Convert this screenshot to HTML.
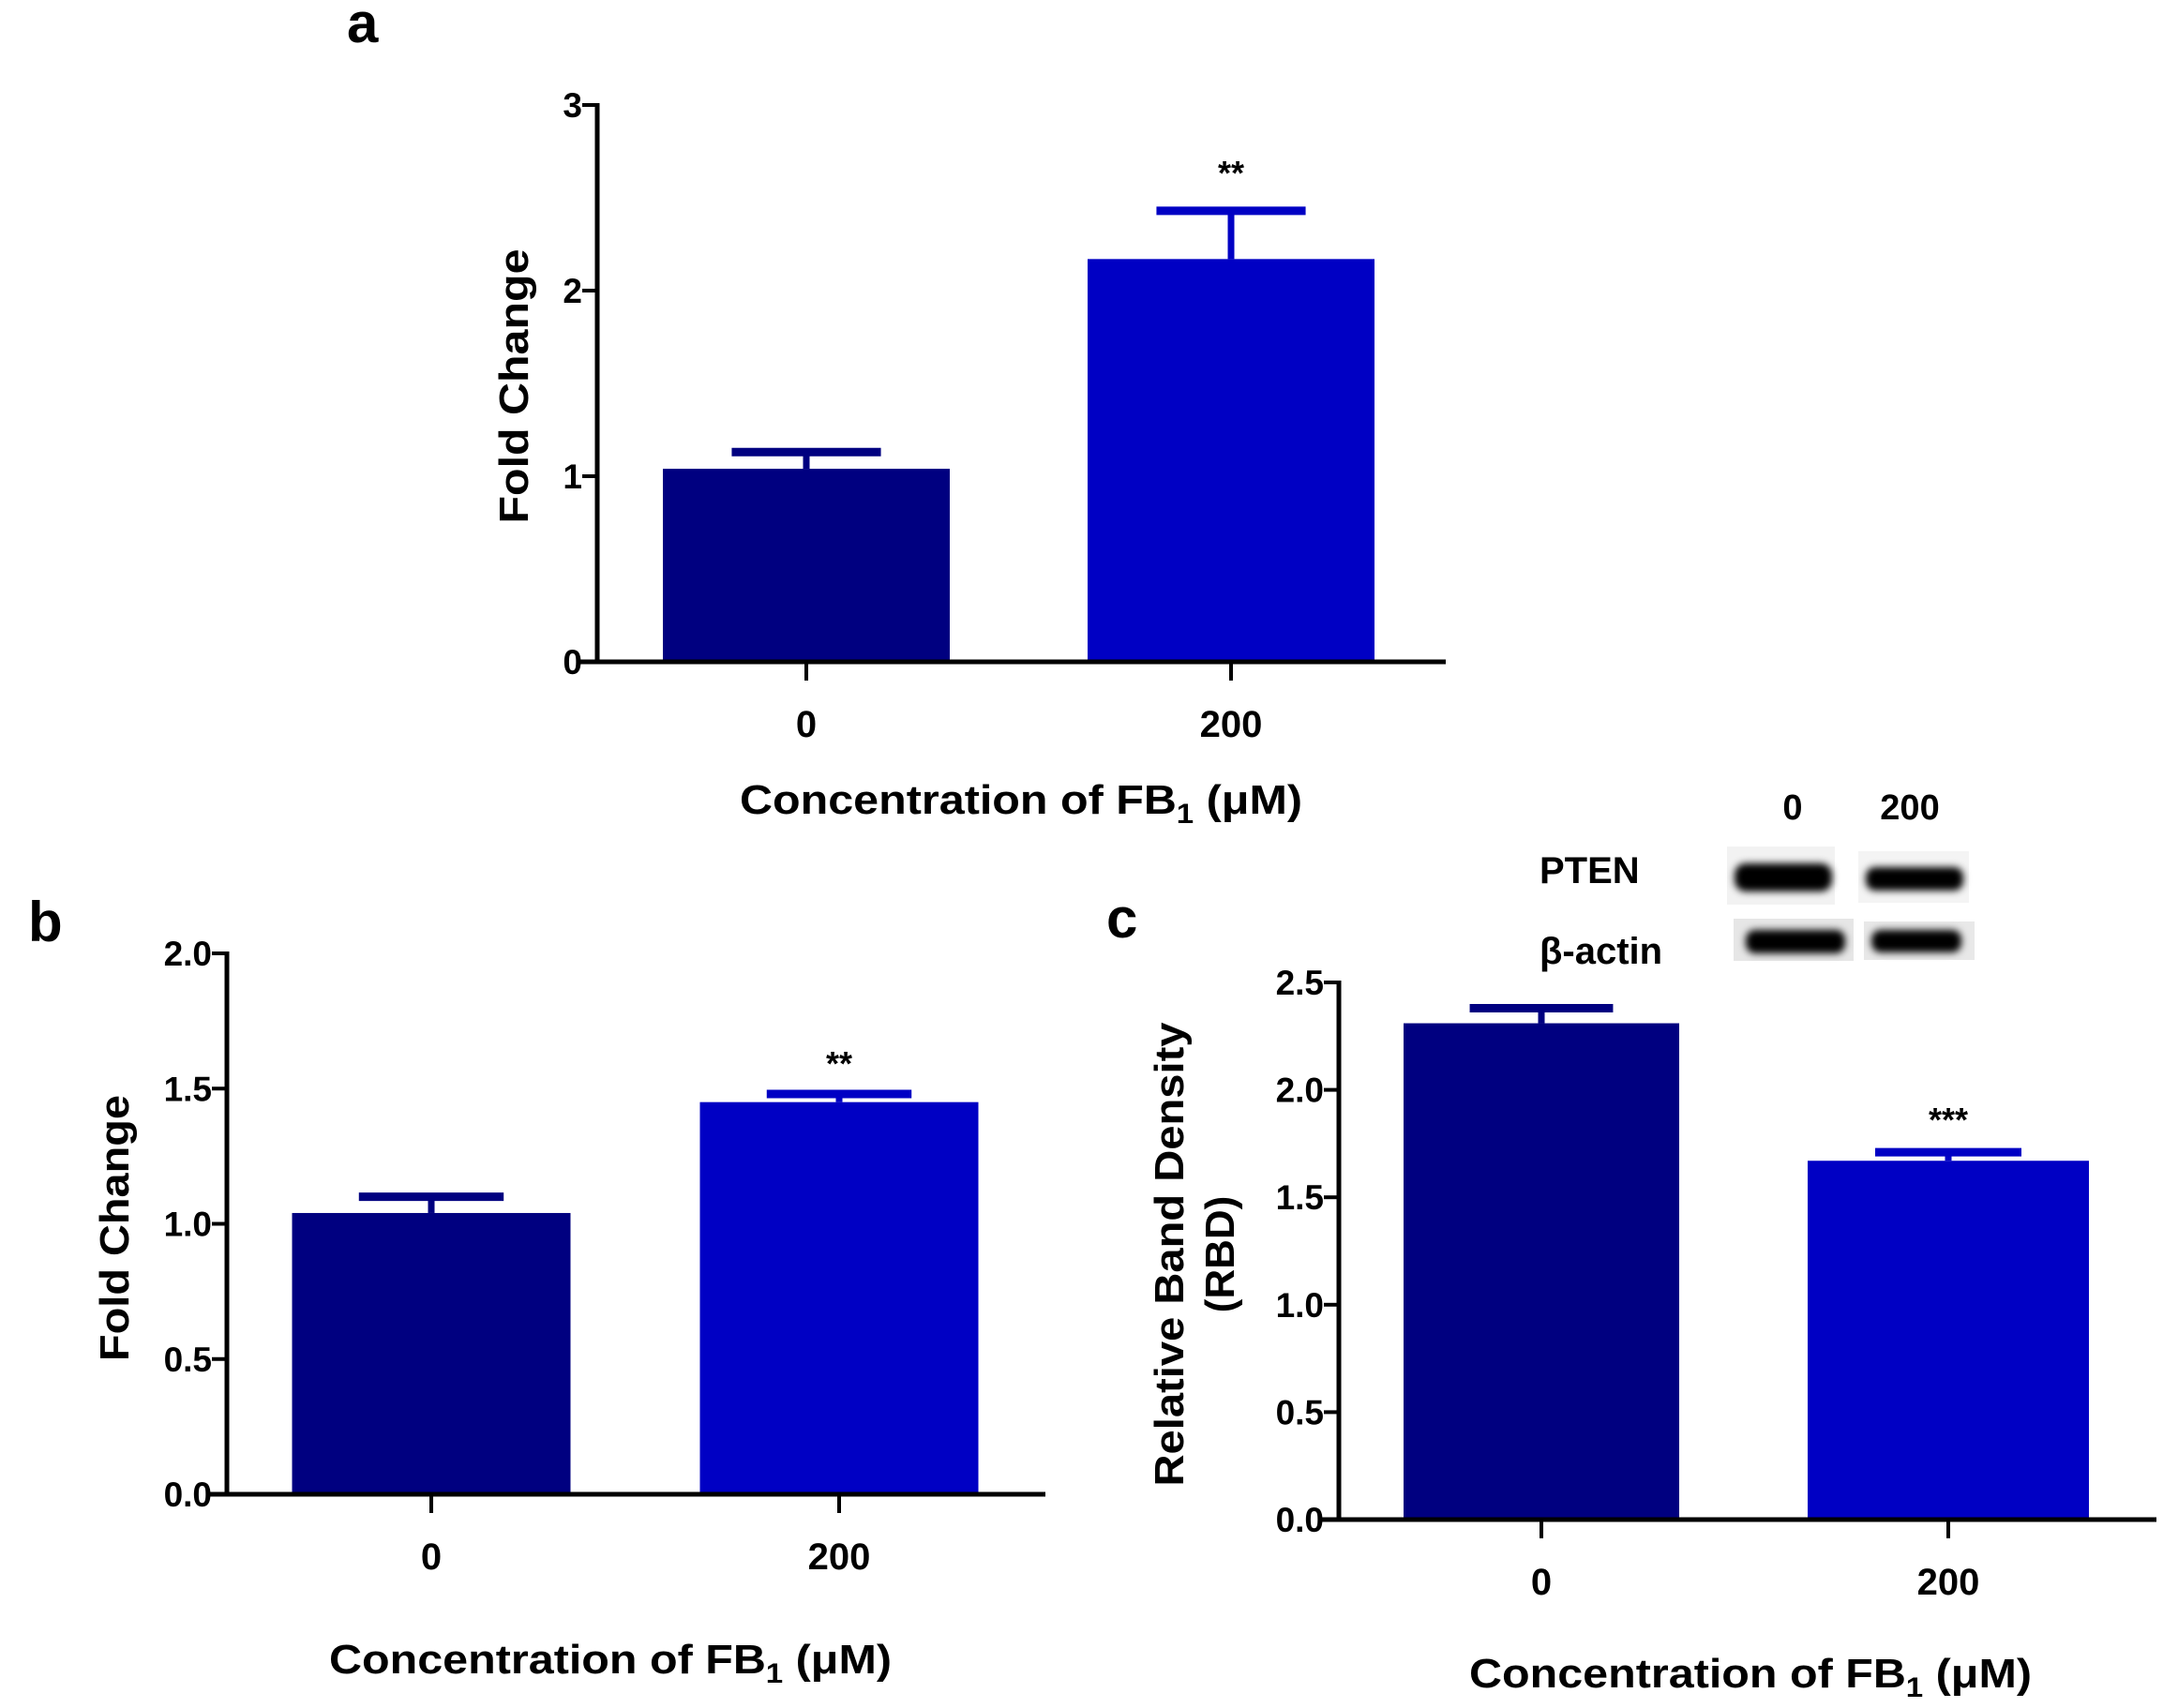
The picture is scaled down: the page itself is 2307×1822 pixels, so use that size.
<!DOCTYPE html>
<html><head><meta charset="utf-8"><style>
html,body{margin:0;padding:0;background:#fff;}
svg{display:block;}
text{font-family:"Liberation Sans",Arial,sans-serif;font-weight:bold;fill:#000;}
</style></head><body>
<svg id="fig" width="2307" height="1822" viewBox="0 0 2307 1822" xmlns="http://www.w3.org/2000/svg">
<defs><filter id="blur" x="-20%" y="-40%" width="140%" height="180%"><feGaussianBlur stdDeviation="4"/></filter></defs>
<g id="blot">
  <rect x="1842" y="903" width="115" height="62" fill="#f2f2f2"/>
  <rect x="1982" y="908" width="118" height="55" fill="#f4f4f4"/>
  <rect x="1849" y="980" width="128" height="45" fill="#e6e6e6"/>
  <rect x="1988" y="983" width="118" height="41" fill="#e8e8e8"/>
  <rect x="1850" y="921" width="104" height="30" rx="12" fill="#000" filter="url(#blur)"/>
  <rect x="1990" y="925" width="104" height="25" rx="10" fill="#000" filter="url(#blur)"/>
  <rect x="1862" y="992" width="106" height="25" rx="10" fill="#000" filter="url(#blur)"/>
  <rect x="1996" y="992" width="96" height="24" rx="10" fill="#000" filter="url(#blur)"/>
  <text x="1912" y="874" font-size="38" text-anchor="middle">0</text>
  <text x="2037" y="874" font-size="38" text-anchor="middle">200</text>
  <text x="1642" y="942" font-size="40">PTEN</text>
  <text x="1642" y="1028" font-size="40">β-actin</text>
</g>
</svg>
<script>
// Panel a
const catsA = ["0","200"];
const valsA = [1.04, 2.17];
const errA = [0.09, 0.26];
const ticksA = [0,1,2,3];
const tickLabelsA = ["0","1","2","3"];
// Panel b
const catsB = ["0","200"];
const valsB = [1.04, 1.45];
const errB = [0.06, 0.03];
const ticksB = [0,0.5,1,1.5,2];
const tickLabelsB = ["0.0","0.5","1.0","1.5","2.0"];
// Panel c
const catsC = ["0","200"];
const valsC = [2.31, 1.67];
const errC = [0.07, 0.04];
const ticksC = [0,0.5,1,1.5,2,2.5];
const tickLabelsC = ["0.0","0.5","1.0","1.5","2.0","2.5"];
const starsA = ["","**"], starsB = ["","**"], starsC = ["","***"];

const NS = "http://www.w3.org/2000/svg";
const svg = document.getElementById("fig");
const colors = ["#000080","#0000C4"];
function mk(tag, attrs, parent){
  const e = document.createElementNS(NS, tag);
  for (const k in attrs) e.setAttribute(k, attrs[k]);
  (parent||svg).appendChild(e);
  return e;
}
function panel(p){
  const g = mk("g", {});
  
  
  const y = v => p.y0 - (v / p.ymax) * (p.y0 - p.yTop);
  p.cats.forEach((c, i) => {
    const cx = p.xc[i];
    const bw = p.barW[i];
    const col = colors[i];
    const top = y(p.vals[i]);
    const bar = mk("rect", {x: cx - bw/2, y: top, width: bw, height: p.y0 - top, fill: col}, g);
    
    
    const et = y(p.vals[i] + p.err[i]);
    const eg = mk("g", {stroke: col, fill: "none"}, g);
    
    
    mk("line", {x1: cx, x2: cx, y1: top, y2: et, "stroke-width": 7}, eg);
    mk("line", {x1: cx - bw*0.26, x2: cx + bw*0.26, y1: et, y2: et, "stroke-width": 9}, eg);
    if (p.stars[i]) {
      const s = mk("text", {x: cx, y: et - p.starGap, "font-size": 36, "text-anchor": "middle"}, g);
      s.textContent = p.stars[i];
      
      
    }
    const tk = mk("line", {x1: cx, x2: cx, y1: p.y0, y2: p.y0 + 20, stroke: "#000", "stroke-width": 4}, g);
    
    
    const tl = mk("text", {x: cx, y: p.y0 + 80, "font-size": 40, "text-anchor": "middle"}, g);
    tl.textContent = c;
    
    
  });
  const ax = mk("g", {stroke: "#000", "stroke-width": 5}, g);
  
  
  mk("line", {x1: p.x0, x2: p.x0, y1: p.yTop - 2, y2: p.y0 + 2}, ax);
  mk("line", {x1: p.x0 - 18, x2: p.xEnd, y1: p.y0, y2: p.y0}, ax);
  p.ticks.forEach((t, i) => {
    const ty = y(t);
    const l = mk("line", {x1: p.x0 - 16, x2: p.x0, y1: ty, y2: ty, stroke: "#000", "stroke-width": 4}, g);
    
    
    const tl = mk("text", {x: p.x0 - 16, y: ty + 13, "font-size": 37, "text-anchor": "end"}, g);
    tl.textContent = p.tickLabels[i];
    
    
  });
  const xt = mk("text", {x: p.xlx - 300, y: p.xly, "font-size": 44, textLength: 600, lengthAdjust: "spacingAndGlyphs"}, g);
  xt.innerHTML = 'Concentration of FB<tspan font-size="30" dy="10">1</tspan><tspan dy="-10"> (μM)</tspan>';
  
  
  p.ylab.forEach((lab, k) => {
    const attrs = {x: 0, y: 0, "font-size": 44, "text-anchor": "middle",
      transform: "translate(" + p.ylx[k] + "," + p.yly + ") rotate(-90)"};
    if (p.ylen[k]) { attrs.textLength = p.ylen[k]; attrs.lengthAdjust = "spacingAndGlyphs"; }
    const yt = mk("text", attrs, g);
    yt.textContent = lab;
    
    
  });
  const pl = mk("text", {x: p.lx, y: p.ly, "font-size": 60}, g);
  pl.textContent = p.id.slice(-1);
  
  
}
panel({id:"panel-a", cats:catsA, vals:valsA, err:errA, stars:starsA, ticks:ticksA, tickLabels:tickLabelsA,
  ymax:3, x0:637, y0:706, yTop:112, xEnd:1542, xc:[860,1313], barW:[306,306], starGap:28,
  xlx:1089, xly:868, ylab:["Fold Change"], ylen:[293], ylx:[563], yly:412, lx:370, ly:45});
panel({id:"panel-b", cats:catsB, vals:valsB, err:errB, stars:starsB, ticks:ticksB, tickLabels:tickLabelsB,
  ymax:2, x0:242, y0:1594, yTop:1017, xEnd:1115, xc:[460,895], barW:[297,297], starGap:20,
  xlx:651, xly:1785, ylab:["Fold Change"], ylen:[284], ylx:[137], yly:1310, lx:30, ly:1004});
panel({id:"panel-c", cats:catsC, vals:valsC, err:errC, stars:starsC, ticks:ticksC, tickLabels:tickLabelsC,
  ymax:2.5, x0:1428, y0:1621, yTop:1048, xEnd:2300, xc:[1644,2078], barW:[294,300], starGap:22,
  xlx:1867, xly:1800, ylab:["Relative Band Density","(RBD)"], ylen:[495,0], ylx:[1262,1316], yly:1338, lx:1180, ly:1000});
</script>
</body></html>
